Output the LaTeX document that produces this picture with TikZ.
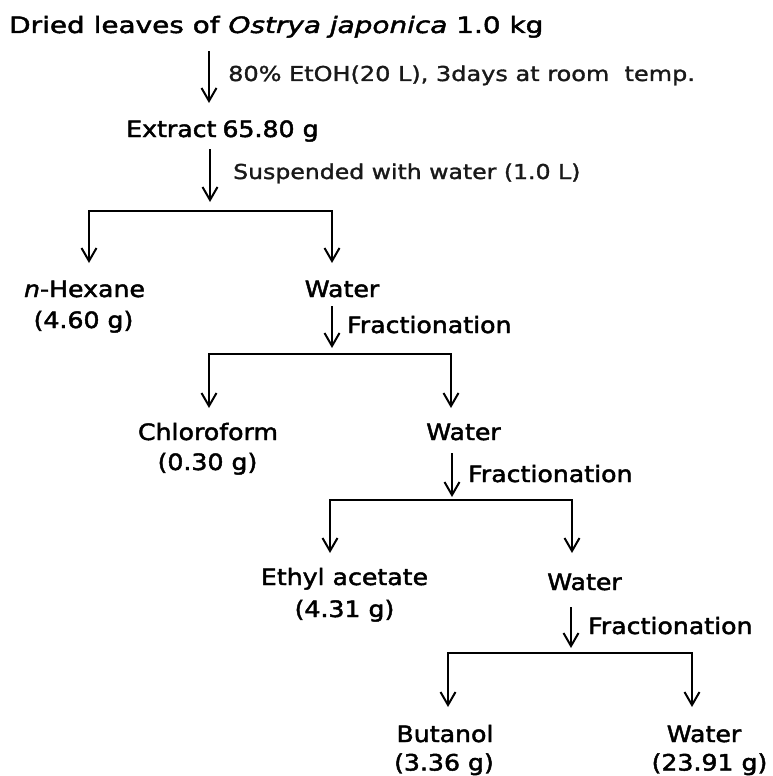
\documentclass[tikz,border=0pt]{standalone}
\usepackage{fontspec}
\setmainfont{DejaVu Sans}
\newfontfamily\fmain[FakeStretch=1.12,FakeBold=2]{DejaVu Sans}
\newfontfamily\ftitle[FakeStretch=1.24,FakeBold=2]{DejaVu Sans}
\newfontfamily\flabA[FakeStretch=1.17,FakeBold=1.5]{DejaVu Sans}
\newfontfamily\flabB[FakeStretch=1.15,FakeBold=1.5]{DejaVu Sans}
\usetikzlibrary{arrows.meta}
\begin{document}
\begin{tikzpicture}[x=1pt,y=-1pt,
  every node/.style={inner sep=0pt},
  main/.style={font=\fmain\fontsize{22.5}{27}\selectfont, anchor=base},
  ttl/.style={font=\ftitle\fontsize{22.5}{27}\selectfont, anchor=base west},
  labA/.style={font=\flabA\fontsize{20.5}{25}\selectfont, anchor=base west, text=black!90},
  labB/.style={font=\flabB\fontsize{20.5}{25}\selectfont, anchor=base west, text=black!90},
  lefttxt/.style={font=\fmain\fontsize{22.5}{27}\selectfont, anchor=base west},
  ln/.style={line width=2pt, line cap=rect},
  arr/.style={line width=2pt, line cap=rect, -{Straight Barb[length=13pt,width=15pt]}}]
\useasboundingbox (0,0) rectangle (773,776);

% texts
\node[ttl] (src) at (9,33) {Dried leaves of \textit{Ostrya japonica} 1.0 kg};
\node[labA] (l1) at (228,81) {80\% EtOH(20 L), 3days at room\ \ temp.};
\node[lefttxt] (ext) at (126,137) {Extract\hspace{-2pt} 65.80 g};
\node[labB] (l2) at (233,179) {Suspended with water (1.0 L)};

\node[main] (hex) at (84.5,297) {\textit{n}-Hexane};
\node[main] (hexw) at (83.5,328) {(4.60 g)};
\node[main] (w1) at (342,297) {Water};
\node[lefttxt] (f1) at (347,333) {Fractionation};

\node[main] (chl) at (208,440) {Chloroform};
\node[main] (chlw) at (207.5,470) {(0.30 g)};
\node[main] (w2) at (463.5,440) {Water};
\node[lefttxt] (f2) at (468,482) {Fractionation};

\node[main] (eth) at (344.5,585) {Ethyl acetate};
\node[main] (ethw) at (344.5,617) {(4.31 g)};
\node[main] (w3) at (584.5,590) {Water};
\node[lefttxt] (f3) at (588,634) {Fractionation};

\node[main] (but) at (445,742) {Butanol};
\node[main] (butw) at (444,770.5) {(3.36 g)};
\node[main] (w4) at (704,742) {Water};
\node[main] (w4w) at (709.5,770.5) {(23.91 g)};

% connector end points
\coordinate (a1s) at (209,52);  \coordinate (a1e) at (209,103);
\coordinate (a2s) at (210,150); \coordinate (a2e) at (210,202);
\coordinate (b1l) at (89,210.5);  \coordinate (b1r) at (332,210.5);
\coordinate (d1l) at (89,263);  \coordinate (d1r) at (332,263);
\coordinate (a3s) at (332,307); \coordinate (a3e) at (332,348);
\coordinate (b2l) at (209,354); \coordinate (b2r) at (451,354);
\coordinate (d2l) at (209,408); \coordinate (d2r) at (451,408);
\coordinate (a4s) at (452,454); \coordinate (a4e) at (452,497);
\coordinate (b3l) at (330,500); \coordinate (b3r) at (572,500);
\coordinate (d3l) at (330,553); \coordinate (d3r) at (572,553);
\coordinate (a5s) at (571,608); \coordinate (a5e) at (571,648);
\coordinate (b4l) at (448,653); \coordinate (b4r) at (692,653);
\coordinate (d4l) at (448,707); \coordinate (d4r) at (692,707);

% connectors
\draw[arr] (a1s) -- (a1e);
\draw[arr] (a2s) -- (a2e);
\draw[ln] (b1l) -- (b1r);
\draw[arr] (b1l) -- (d1l);
\draw[arr] (b1r) -- (d1r);

\draw[arr] (a3s) -- (a3e);
\draw[ln] (b2l) -- (b2r);
\draw[arr] (b2l) -- (d2l);
\draw[arr] (b2r) -- (d2r);

\draw[arr] (a4s) -- (a4e);
\draw[ln] (b3l) -- (b3r);
\draw[arr] (b3l) -- (d3l);
\draw[arr] (b3r) -- (d3r);

\draw[arr] (a5s) -- (a5e);
\draw[ln] (b4l) -- (b4r);
\draw[arr] (b4l) -- (d4l);
\draw[arr] (b4r) -- (d4r);
\end{tikzpicture}
\end{document}
